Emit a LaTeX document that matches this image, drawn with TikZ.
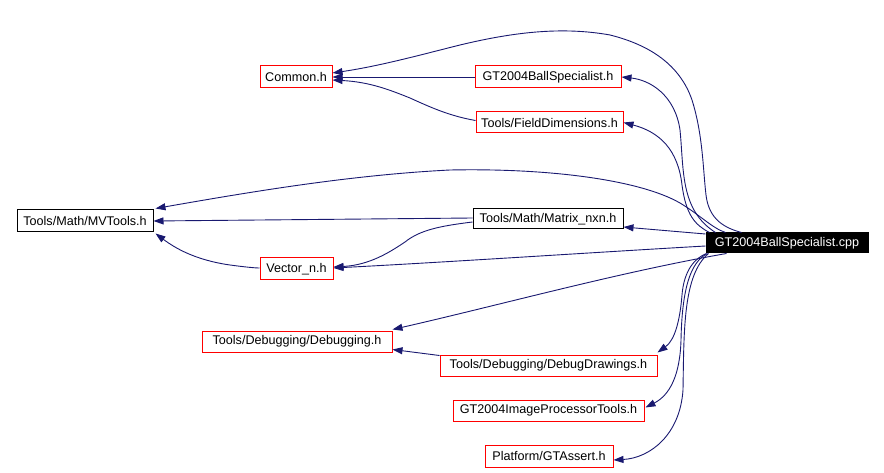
\documentclass[tikz,border=0pt]{standalone}
\usepackage{fontspec}
\setmainfont{Liberation Sans}
\usetikzlibrary{arrows.meta,calc}
\definecolor{edgeblue}{HTML}{191970}
\tikzset{
  hbox/.style={draw=red, line width=1pt, fill=white, inner sep=0pt, font=\fontsize{12.6}{14}\selectfont, text=black},
  kbox/.style={hbox, draw=black},
  rootbox/.style={hbox, draw=black, fill=black, text=white},
  edge/.style={draw=edgeblue, line width=0.9pt, {Triangle[length=10pt,width=7pt]}-}
}
\begin{document}
\begin{tikzpicture}[x=1pt,y=-1pt]
\useasboundingbox (0,0) rectangle (884,473);
% nodes
\node[hbox, minimum width=72pt, minimum height=22pt] (common) at (296,77) {Common.h};
\node[hbox, minimum width=146pt, minimum height=22pt] (ballh) at (548,77) {GT2004BallSpecialist.h};
\node[hbox, minimum width=147pt, minimum height=21pt] (fd) at (549.5,122.5) {Tools/FieldDimensions.h};
\node[kbox, minimum width=136pt, minimum height=22pt] (mv) at (85,221) {Tools/Math/MVTools.h};
\node[hbox, minimum width=73pt, minimum height=22pt] (vec) at (296.5,269) {Vector\_n.h};
\node[kbox, minimum width=150pt, minimum height=20pt] (mat) at (548,219) {Tools/Math/Matrix\_nxn.h};
\node[rootbox, minimum width=162pt, minimum height=20pt] (cpp) at (787,243) {GT2004BallSpecialist.cpp};
\node[hbox, minimum width=190pt, minimum height=21pt] (dbg) at (297,341.5) {Tools/Debugging/Debugging.h};
\node[hbox, minimum width=217pt, minimum height=21pt] (dd) at (548.5,365.5) {Tools/Debugging/DebugDrawings.h};
\node[hbox, minimum width=191pt, minimum height=21pt] (ipt) at (548.5,410.5) {GT2004ImageProcessorTools.h};
\node[hbox, minimum width=128pt, minimum height=22pt] (gta) at (549,456) {Platform/GTAssert.h};
% edges
\draw[edge] ($(common.east)+(0,-4)$) .. controls (380,66) and (420,55) .. (460,45)
  .. controls (510,33) and (560,26) .. (610,35)
  .. controls (650,45) and (680,65) .. (692,100)
  .. controls (703,135) and (703,170) .. (706,195)
  .. controls (709,220) and (725,228) .. ($(cpp.north west)+(36,0)$);
\draw[edge] (common.east) -- (ballh.west);
\draw[edge] ($(common.east)+(0,3)$) .. controls (370,82) and (390,90) .. (410,98)
  .. controls (432,108) and (450,116) .. ($(fd.west)+(0,-2)$);
\draw[edge] (ballh.east) .. controls (650,80) and (675,95) .. (680,130)
  .. controls (684,170) and (680,210) .. ($(cpp.north west)+(10,0)$);
\draw[edge] (fd.east) .. controls (660,132) and (678,150) .. (682,185)
  .. controls (686,215) and (695,225) .. ($(cpp.north west)+(4,0)$);
\draw[edge] ($(mv.north east)+(2,-1)$) .. controls (250,192) and (350,175) .. (450,170)
  .. controls (550,168) and (640,180) .. (680,203)
  .. controls (700,215) and (712,228) .. ($(cpp.north west)+(20,0)$);
\draw[edge] (mv.east) -- ($(mat.west)+(0,-1)$);
\draw[edge] ($(vec.east)+(0,-2)$) .. controls (370,265) and (390,252) .. (405,242)
  .. controls (420,230) and (440,226) .. ($(mat.west)+(0,3)$);
\draw[edge] ($(mv.south east)+(2,1)$) .. controls (175,248) and (195,260) .. (230,265)
  .. controls (245,267) and (255,268) .. ($(vec.west)+(0,-1)$);
\draw[edge] ($(mat.east)+(0,8)$) -- ($(cpp.west)+(0,-9)$);
\draw[edge] ($(vec.east)+(0,-1)$) .. controls (450,262) and (600,252) .. ($(cpp.west)+(0,3)$);
\draw[edge] ($(dbg.north east)+(0,-1)$) .. controls (500,305) and (620,272) .. ($(cpp.south west)+(21,0)$);
\draw[edge] ($(dbg.east)+(0,8)$) -- ($(dd.north west)+(0,1)$);
\draw[edge] ($(dd.north east)+(0,-2)$) .. controls (675,340) and (680,320) .. (682,295)
  .. controls (684,270) and (695,258) .. ($(cpp.south west)+(1,0)$);
\draw[edge] ($(ipt.east)+(1,-3)$) .. controls (670,395) and (680,375) .. (681,340)
  .. controls (682,290) and (690,262) .. ($(cpp.south west)+(2,0)$);
\draw[edge] ($(gta.east)+(0,4)$) .. controls (650,458) and (680,435) .. (683,390)
  .. controls (684,330) and (683,275) .. ($(cpp.south west)+(3,0)$);
\end{tikzpicture}
\end{document}
